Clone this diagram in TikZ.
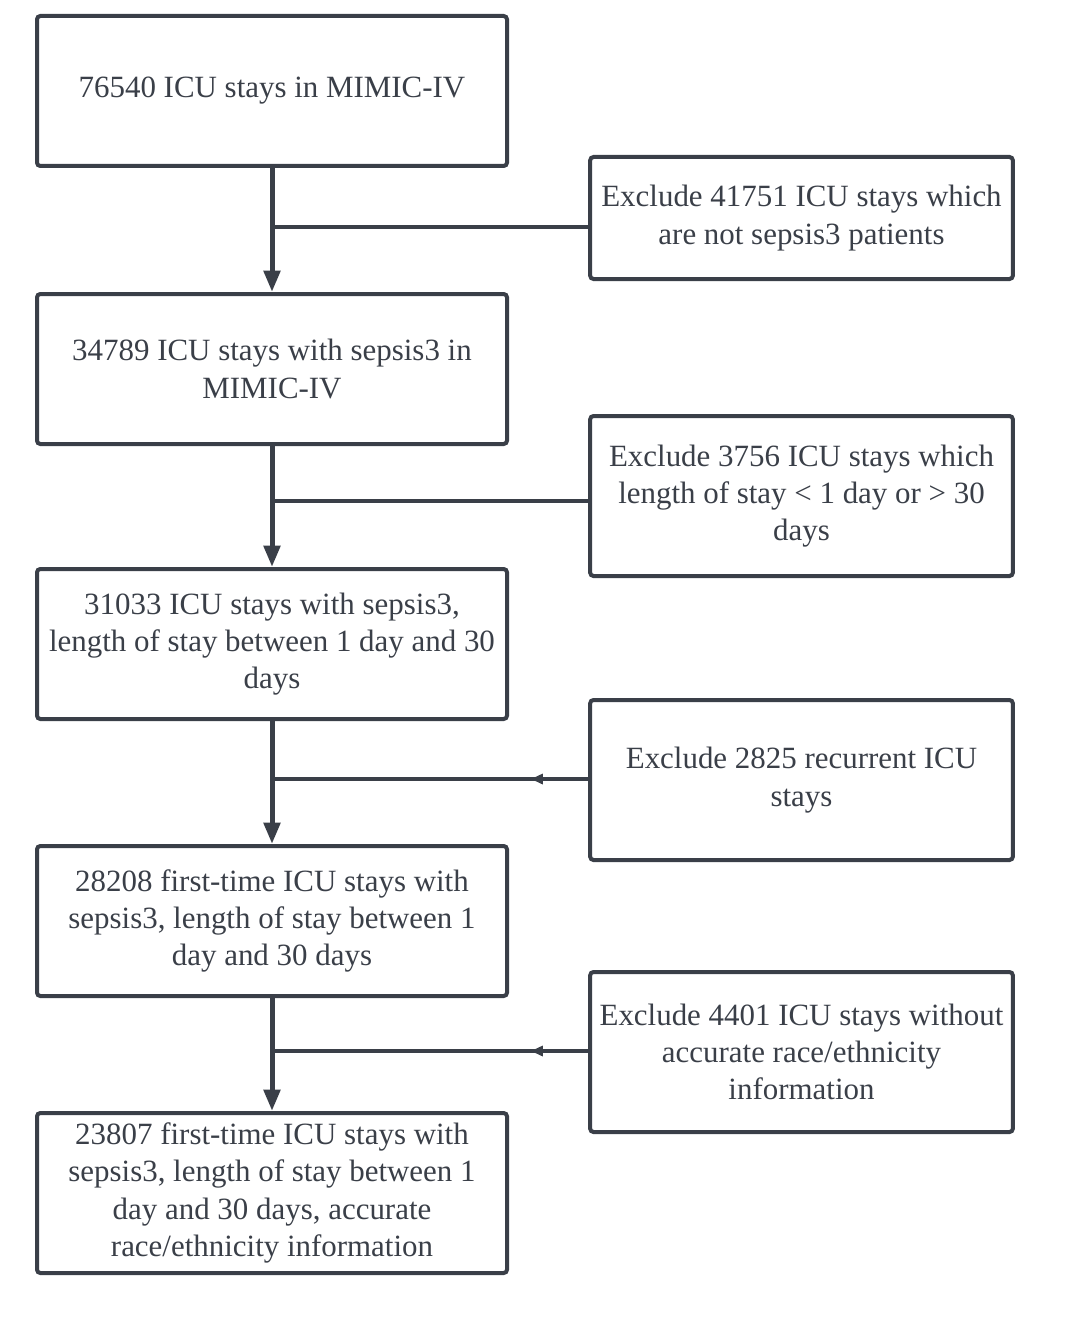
\documentclass[tikz,border=0pt]{standalone}
\usepackage{fontspec}
\setmainfont{Liberation Serif}
\usetikzlibrary{arrows.meta,decorations.markings}
\definecolor{ink}{HTML}{3A3F48}
\begin{document}
\begin{tikzpicture}[x=0.75pt,y=-0.75pt,
  box/.style={draw=ink,line width=3pt,rounded corners=2.5pt,fill=white,align=center,
    text=ink,font=\fontsize{23.2pt}{28pt}\selectfont,inner sep=0pt},
  lbox/.style={box,minimum width=352.5pt,minimum height=112.5pt},
  rbox/.style={box,minimum width=317pt},
  vflow/.style={draw=ink,line width=3.75pt,-{Triangle[width=12pt,length=16pt]}},
  hjoin/.style={draw=ink,line width=2.3pt},
  hjoinarrow/.style={hjoin,postaction={decorate},decoration={markings,
    mark=at position 43pt with {\arrow{Triangle[width=7.5pt,length=9pt]}}}}]
\useasboundingbox (0,0) rectangle (1088,1327);
\node[lbox] (b1) at (272,91) {76540 ICU stays in MIMIC-IV};
\node[lbox] (b2) at (272,369) {34789 ICU stays with sepsis3 in\\MIMIC-IV};
\node[lbox] (b3) at (272,644) {31033 ICU stays with sepsis3,\\length of stay between 1 day and 30\\days};
\node[lbox] (b4) at (272,921) {28208 first-time ICU stays with\\sepsis3, length of stay between 1\\day and 30 days};
\node[lbox,minimum height=120pt] (b5) at (272,1193) {23807 first-time ICU stays with\\sepsis3, length of stay between 1\\day and 30 days, accurate\\race/ethnicity information};
\node[rbox,minimum height=91.5pt] (r1) at (801.5,218) {Exclude 41751 ICU stays which\\are not sepsis3 patients};
\node[rbox,minimum height=120pt] (r2) at (801.5,496) {Exclude 3756 ICU stays which\\length of stay < 1 day or > 30\\days};
\node[rbox,minimum height=120pt] (r3) at (801.5,780) {Exclude 2825 recurrent ICU\\stays};
\node[rbox,minimum height=120pt] (r4) at (801.5,1052) {Exclude 4401 ICU stays without\\accurate race/ethnicity\\information};
\coordinate (j1) at (272,227);
\coordinate (j2) at (272,501);
\coordinate (j3) at (272,779);
\coordinate (j4) at (272,1051);
\draw[vflow] (b1.south) -- (b2.north);
\draw[vflow] (b2.south) -- (b3.north);
\draw[vflow] (b3.south) -- (b4.north);
\draw[vflow] (b4.south) -- (b5.north);
\draw[hjoin] (r1.west |- j1) -- (j1);
\draw[hjoin] (r2.west |- j2) -- (j2);
\draw[hjoinarrow] (r3.west |- j3) -- (j3);
\draw[hjoinarrow] (r4.west |- j4) -- (j4);
\end{tikzpicture}
\end{document}
